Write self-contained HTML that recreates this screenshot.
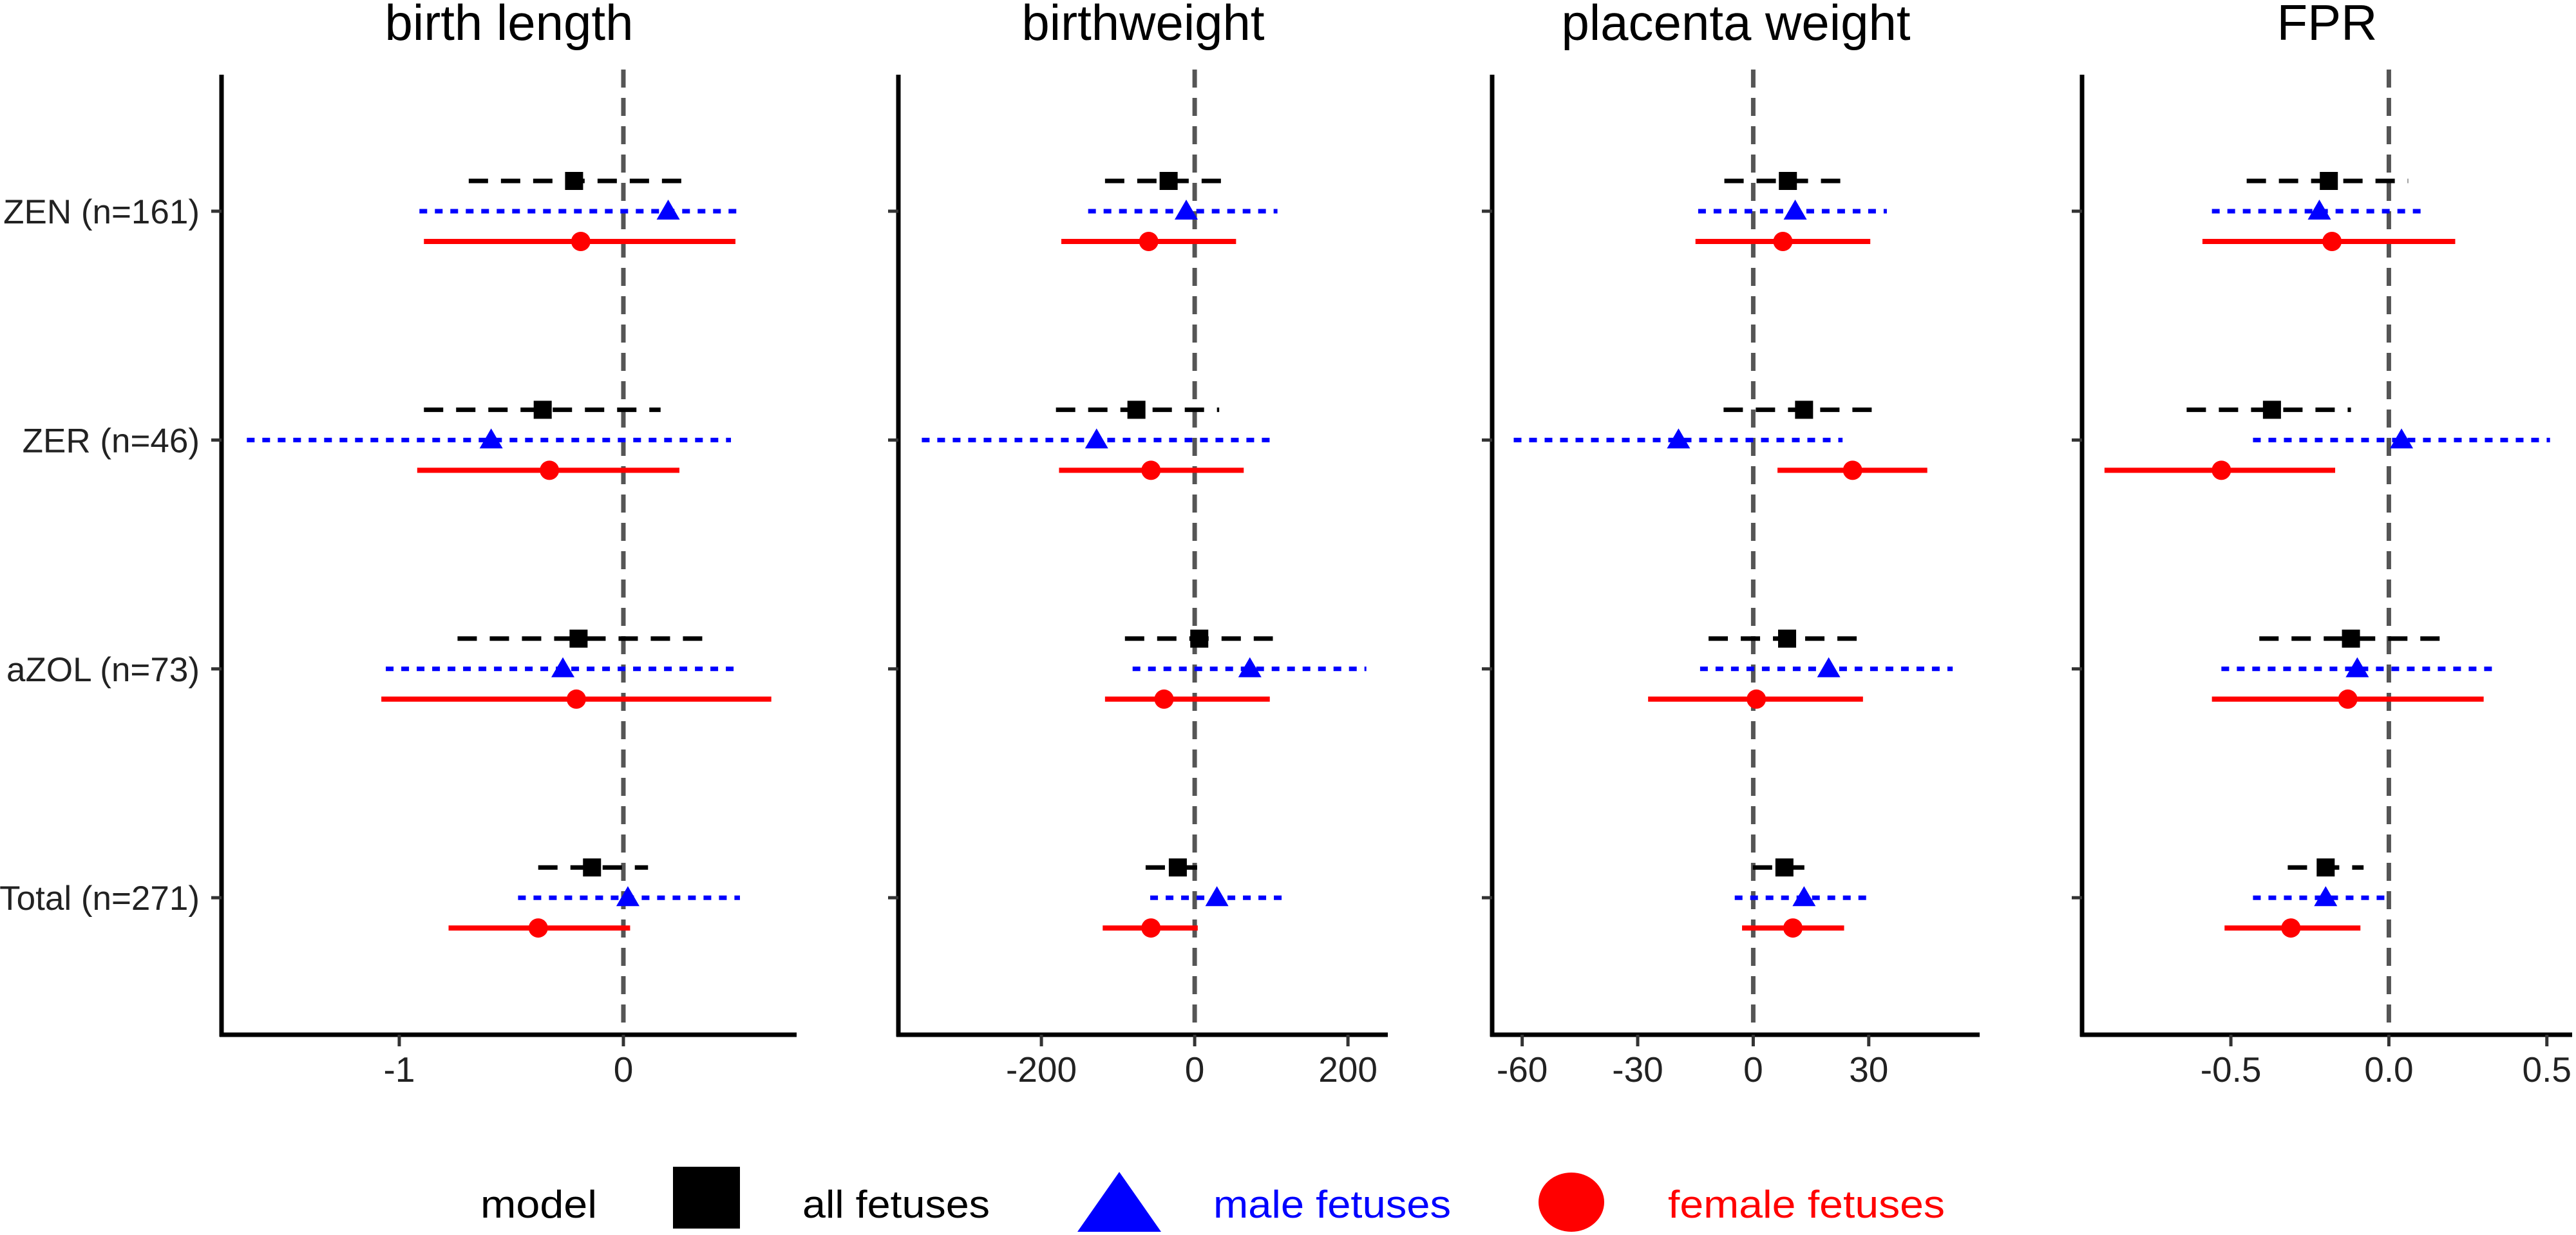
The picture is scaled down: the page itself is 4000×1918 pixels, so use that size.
<!DOCTYPE html>
<html><head><meta charset="utf-8"><style>
html,body{margin:0;padding:0;background:#fff;}
svg{display:block;font-family:"Liberation Sans",Arial,sans-serif;}
</style></head><body>
<svg id="chart" width="4000" height="1918" viewBox="0 0 4000 1918" xmlns="http://www.w3.org/2000/svg">
<rect x="0" y="0" width="4000" height="1918" fill="#fff"/>
<g id="panels"></g>
<g id="legend">
<text x="746" y="1891" font-size="60" textLength="181" lengthAdjust="spacingAndGlyphs" fill="#000">model</text>
<rect x="1045" y="1812" width="104" height="96" fill="#000"/>
<text x="1246" y="1891" font-size="60" textLength="291" lengthAdjust="spacingAndGlyphs" fill="#000">all fetuses</text>
<polygon points="1673,1913 1803,1913 1738,1820" fill="#0000ff"/>
<text x="1884" y="1891" font-size="60" textLength="369" lengthAdjust="spacingAndGlyphs" fill="#0000ff">male fetuses</text>
<ellipse cx="2440" cy="1867" rx="51" ry="46" fill="#ff0000"/>
<text x="2590" y="1891" font-size="60" textLength="430" lengthAdjust="spacingAndGlyphs" fill="#ff0000">female fetuses</text>
</g>
</svg>
<script>
const categories = ["ZEN (n=161)", "ZER (n=46)", "aZOL (n=73)", "Total (n=271)"];
const panelTitles = ["birth length", "birthweight", "placenta weight", "FPR"];
const tickValues = [[-1, 0], [-200, 0, 200], [-60, -30, 0, 30], [-0.5, 0, 0.5]];
const tickLabels = [["-1", "0"], ["-200", "0", "200"], ["-60", "-30", "0", "30"], ["-0.5", "0.0", "0.5"]];
const domains = [[-1.793, 0.773], [-386.6, 252], [-67.8, 58.8], [-0.971, 0.58]];
// each series: per panel, per category [estimate, low, high]
const allFetuses = [
  [[-0.22,-0.69,0.264],[-0.36,-0.89,0.166],[-0.20,-0.74,0.36],[-0.14,-0.38,0.11]],
  [[-34,-117,51],[-76,-181,32],[6,-91,102],[-22,-64,19]],
  [[9.0,-7.5,25.7],[13.2,-7.7,34],[8.8,-11.6,29.5],[8.1,-0.1,16.5]],
  [[-0.19,-0.45,0.061],[-0.37,-0.64,-0.12],[-0.12,-0.41,0.17],[-0.20,-0.32,-0.08]]
];
const maleFetuses = [
  [[0.20,-0.91,0.507],[-0.59,-1.68,0.48],[-0.27,-1.06,0.51],[0.02,-0.47,0.52]],
  [[-11,-139,108],[-128,-356,102],[72,-81,224],[29,-58,116]],
  [[10.9,-14.3,34.7],[-19.4,-62.2,23.2],[19.6,-13.8,51.8],[13.2,-4.8,31]],
  [[-0.22,-0.56,0.12],[0.04,-0.43,0.51],[-0.10,-0.53,0.33],[-0.20,-0.43,0.01]]
];
const femaleFetuses = [
  [[-0.19,-0.89,0.50],[-0.33,-0.92,0.25],[-0.21,-1.08,0.66],[-0.38,-0.78,0.03]],
  [[-60,-174,54],[-57,-177,64],[-40,-117,98],[-57,-120,4]],
  [[7.7,-15,30.4],[25.8,6.3,45.2],[0.8,-27.3,28.5],[10.3,-2.9,23.6]],
  [[-0.18,-0.59,0.21],[-0.53,-0.90,-0.17],[-0.13,-0.56,0.30],[-0.31,-0.52,-0.09]]
];

const NS = "http://www.w3.org/2000/svg";
const panelX = [[344,1237],[1395,2155],[2317,3074],[3233,3994]];
const yTop = 116, yBot = 1607;
const rowY0 = 328, rowStep = 355.4;
function mk(tag, attrs, parent){ const e=document.createElementNS(NS,tag); for(const k in attrs) e.setAttribute(k,attrs[k]); parent.appendChild(e); return e; }
const root = document.getElementById("panels");

panelTitles.forEach((title, p) => {
  const [x0, x1] = panelX[p];
  const [d0, d1] = domains[p];
  const sx = v => x0 + (v - d0) / (d1 - d0) * (x1 - x0);
  const sy = i => rowY0 + i * rowStep;
  const g = mk("g", {}, root);
  
  

  const t = mk("text", {x:(x0+x1)/2, y:62, "font-size":78, "text-anchor":"middle", fill:"#000"}, g);
  t.textContent = title;
  
  

  const z = mk("line", {x1:sx(0), x2:sx(0), y1:yTop-8, y2:yBot, stroke:"#555", "stroke-width":7, "stroke-dasharray":"28 16"}, g);
  
  

  const ya = mk("line", {x1:x0, x2:x0, y1:yTop, y2:yBot+3, stroke:"#000", "stroke-width":7}, g);
  
  
  const xa = mk("line", {x1:x0-3, x2:x1, y1:yBot, y2:yBot, stroke:"#000", "stroke-width":7}, g);
  
  

  categories.forEach((c, i) => {
    const tk = mk("line", {x1:x0-16, x2:x0, y1:sy(i), y2:sy(i), stroke:"#333", "stroke-width":5}, g);
    
    
    if (p === 0) {
      const lb = mk("text", {x:310, y:sy(i)+19, "font-size":53, "text-anchor":"end", fill:"#222"}, g);
      lb.textContent = c;
      
      
    }
  });

  tickValues[p].forEach((v, k) => {
    const tk = mk("line", {x1:sx(v), x2:sx(v), y1:yBot, y2:yBot+18, stroke:"#333", "stroke-width":5}, g);
    
    
    const lb = mk("text", {x:sx(v), y:1680, "font-size":55, "text-anchor":"middle", fill:"#222"}, g);
    lb.textContent = tickLabels[p][k];
    
    
  });

  const series = [
    {data: allFetuses[p], off:-47, color:"#000", dash:"30 20", w:7, shape:"square", name:"all-fetuses"},
    {data: maleFetuses[p], off:0, color:"#0000ff", dash:"12 12", w:7, shape:"triangle", name:"male-fetuses"},
    {data: femaleFetuses[p], off:47, color:"#ff0000", dash:"none", w:8, shape:"circle", name:"female-fetuses"}
  ];
  series.forEach(s => {
    s.data.forEach((d, i) => {
      const y = sy(i) + s.off;
      const ln = mk("line", {x1:sx(d[1]), x2:sx(d[2]), y1:y, y2:y, stroke:s.color, "stroke-width":s.w}, g);
      if (s.dash !== "none") ln.setAttribute("stroke-dasharray", s.dash);
      
      
      const cx = sx(d[0]);
      let m;
      if (s.shape === "square") m = mk("rect", {x:cx-14, y:y-14, width:28, height:28, fill:s.color}, g);
      else if (s.shape === "triangle") m = mk("polygon", {points:`${cx-18},${y+13} ${cx+18},${y+13} ${cx},${y-18}`, fill:s.color}, g);
      else m = mk("circle", {cx:cx, cy:y, r:15, fill:s.color}, g);
      
      
    });
  });
});
</script>
</body></html>
